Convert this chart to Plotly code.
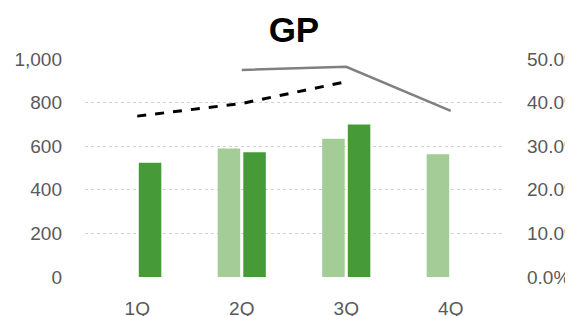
import plotly.graph_objects as go

categories = ["1Q", "2Q", "3Q", "4Q"]
gp_prev = [None, 590, 634, 563]
gp_curr = [524, 572, 700, None]
margin_prev = [None, 0.475, 0.482, 0.381]
margin_curr = [0.369, 0.398, 0.448, None]

fig = go.Figure()
fig.add_trace(go.Bar(x=categories, y=gp_prev, marker_color="#A3CC96",
                     marker_line_width=0, yaxis="y", showlegend=False))
fig.add_trace(go.Bar(x=categories, y=gp_curr, marker_color="#479A38",
                     marker_line_width=0, yaxis="y", showlegend=False))
fig.add_trace(go.Scatter(x=categories, y=margin_prev, mode="lines",
                         line=dict(color="#808080", width=2.5), yaxis="y2",
                         showlegend=False))
fig.add_trace(go.Scatter(x=categories, y=margin_curr, mode="lines",
                         line=dict(color="#000000", width=3, dash="dash"),
                         yaxis="y2", showlegend=False))

tickfont = dict(family="Liberation Sans", size=19, color="#595959")
fig.update_layout(
    width=573, height=316,
    margin=dict(l=77, r=78, t=51, b=47),
    paper_bgcolor="white", plot_bgcolor="white",
    barmode="group", bargap=0.51, bargroupgap=0.12,
    title=dict(text="<b>GP</b>", x=0.499, xanchor="center", y=0.93, yanchor="middle",
               font=dict(family="Liberation Sans", size=35, color="#000000"),
               automargin=False),
    xaxis=dict(tickfont=tickfont, showgrid=False, zeroline=False, showline=False,
               ticks="", ticklabelstandoff=18, automargin=False),
    yaxis=dict(range=[0, 1000], dtick=200, tickformat=",", tickfont=tickfont,
               showgrid=True, gridcolor="#D0D0D0", griddash="dot", zeroline=False,
               showline=False, ticks="", ticklabelstandoff=22, automargin=False),
    yaxis2=dict(range=[0, 0.5], dtick=0.1, tickformat=".1%", tickfont=tickfont,
                overlaying="y", side="right", showgrid=False, zeroline=False,
                showline=False, ticks="", ticklabelstandoff=23, automargin=False),
)
fig.write_html("out.html")
